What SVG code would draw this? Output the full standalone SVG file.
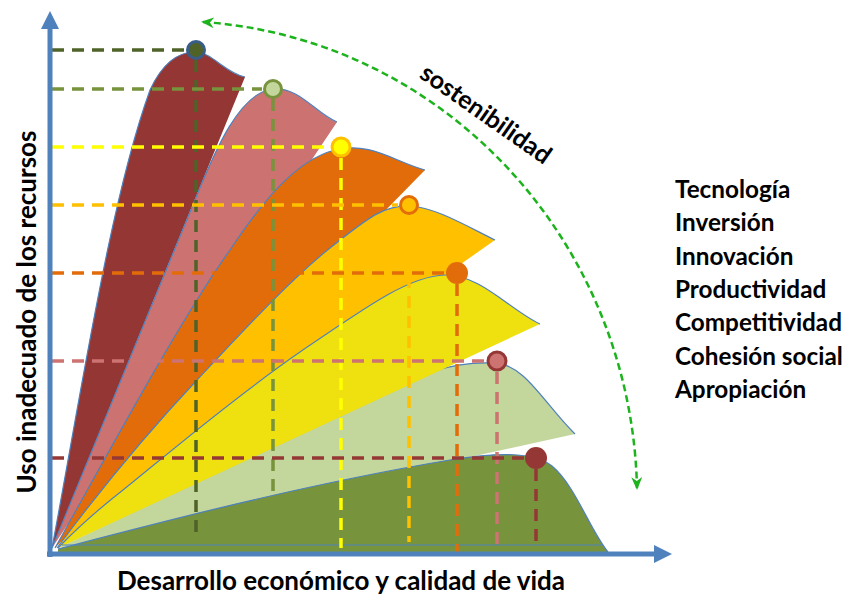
<svg xmlns="http://www.w3.org/2000/svg" width="851" height="600" viewBox="0 0 851 600">
<defs>
<style>
.edge{fill:none;stroke:#4F81BD;stroke-width:1.2}
.dash{fill:none;stroke-width:3.5;stroke-dasharray:12 8}
.lbl{font-family:Lato,"Liberation Sans",sans-serif;font-weight:bold;fill:#000}
.axis{stroke:#4F81BD;stroke-width:5;fill:none}
</style>
<marker id="ga" markerUnits="userSpaceOnUse" markerWidth="13" markerHeight="11" viewBox="0 0 13 11" refX="11" refY="5.5" orient="auto-start-reverse">
<path d="M0,0 L13,5.5 L0,11 L4,5.5 Z" fill="#1DB31D"/>
</marker>
</defs>
<rect width="851" height="600" fill="#fff"/>

<g id="shape-darkred">
<path fill="#943634" d="M52,548 C80,400 110,200 150,90 C163,62 178,52 195,52 C212,52 225,73 245,77 L52,548 Z"/>
<path class="edge" d="M52,548 C80,400 110,200 150,90 C163,62 178,52 195,52 C212,52 225,73 245,77"/>
</g>
<g id="shape-pink">
<path fill="#CC7270" d="M52,548 L195,200 C215,150 240,92 273,89 C300,87 315,113 337,122 L52,548 Z"/>
<path class="edge" d="M52,548 L195,200 C215,150 240,92 273,89 C300,87 315,113 337,122"/>
</g>
<g id="shape-orange">
<path fill="#E36C0A" d="M55,548 C110,450 180,320 230,250 C260,205 295,160 335,150 C370,141 395,162 425,170 L55,548 Z"/>
<path class="edge" d="M55,548 C110,450 180,320 230,250 C260,205 295,160 335,150 C370,141 395,162 425,170"/>
</g>
<g id="shape-gold">
<path fill="#FFC000" d="M57,548 C100,490 150,430 197,380 S290,280 330,248 S385,205 410,206 S470,228 495,240 L57,548 Z"/>
<path class="edge" d="M57,548 C100,490 150,430 197,380 S290,280 330,248 S385,205 410,206 S470,228 495,240"/>
</g>
<g id="shape-lightgreen">
<path fill="#C3D69B" d="M58,548 L430,372 C455,364 475,362 495,363 C525,364 545,405 575,434 L58,548 Z"/>
<path class="edge" d="M430,372 C455,364 475,362 495,363 C525,364 545,405 575,434"/>
</g>
<g id="shape-yellow">
<path fill="#EFE010" d="M58,548 C80,525 100,508 123,490 S230,400 300,352 S410,276 445,275 S510,310 540,324 L58,548 Z"/>
<path class="edge" d="M58,548 C80,525 100,508 123,490 S230,400 300,352 S410,276 445,275 S510,310 540,324"/>
</g>
<g id="shape-darkgreen">
<path fill="#77933C" d="M58,549 C150,525 300,485 450,460 C500,452 535,452 552,466 C575,485 590,530 608,552 L58,552 Z"/>
<path class="edge" d="M58,549 C150,525 300,485 450,460 C500,452 535,452 552,466 C575,485 590,530 608,552"/>
<path class="edge" d="M62,545 L603,545"/>
</g>

<g id="connectors">
<path class="dash" stroke="#4F6228" d="M52,50 L187,50 M196,60 L196,540"/>
<path class="dash" stroke="#77933C" d="M52,89 L262,89 M273,99 L273,492"/>
<path class="dash" stroke="#FFFF00" d="M52,147 L330,147 M341,158 L341,548"/>
<path class="dash" stroke="#FFC000" d="M52,205 L398,205 M409,216 L409,542"/>
<path class="dash" stroke="#E36C0A" d="M52,273 L445,273 M457,284 L457,552"/>
<path class="dash" stroke="#CD7371" d="M52,361 L487,361 M497,372 L497,552"/>
<path class="dash" stroke="#953735" d="M52,458 L525,458 M536,469 L536,544"/>
<path fill="none" stroke="#1DB31D" stroke-width="2.5" stroke-dasharray="7 4" marker-start="url(#ga)" marker-end="url(#ga)" d="M203,22 A465 478 0 0 1 637,488"/>
</g>

<g id="axes">
<path class="axis" d="M50,557 L50,26"/>
<polygon fill="#4F81BD" points="50,11 59,29 41,29"/>
<path class="axis" d="M47,554 L657,554"/>
<polygon fill="#4F81BD" points="672,554 654,545 654,563"/>
</g>

<g id="markers">
<circle id="p1" cx="196" cy="50" r="8.5" fill="#4F6228" stroke="#385D8A" stroke-width="3"/>
<circle id="p2" cx="273" cy="89" r="8.5" fill="#C3D69B" stroke="#77933C" stroke-width="3"/>
<circle id="p3" cx="341" cy="147" r="9" fill="#FFFF00" stroke="#FFC000" stroke-width="3"/>
<circle id="p4" cx="409" cy="205" r="8.5" fill="#FFC000" stroke="#E36C0A" stroke-width="3"/>
<circle id="p5" cx="457" cy="273" r="11" fill="#E36C0A"/>
<circle id="p6" cx="497" cy="361" r="9" fill="#CD7371" stroke="#953735" stroke-width="3"/>
<circle id="p7" cx="536" cy="458" r="11" fill="#953735"/>
</g>

<g id="labels">
<text class="lbl" font-size="26" text-anchor="middle" transform="translate(36,312) rotate(-90)">Uso inadecuado de los recursos</text>
<text class="lbl" font-size="26" text-anchor="middle" x="341" y="590">Desarrollo económico y calidad de vida</text>
<text class="lbl" font-size="25" text-anchor="middle" transform="translate(481,121) rotate(35)">sostenibilidad</text>
<g font-size="24.3" class="lbl">
<text class="lbl" x="675" y="198">Tecnología</text>
<text class="lbl" x="675" y="231">Inversión</text>
<text class="lbl" x="675" y="265">Innovación</text>
<text class="lbl" x="675" y="298">Productividad</text>
<text class="lbl" x="675" y="331">Competitividad</text>
<text class="lbl" x="675" y="365">Cohesión social</text>
<text class="lbl" x="675" y="398">Apropiación</text>
</g>
</g>
</svg>
